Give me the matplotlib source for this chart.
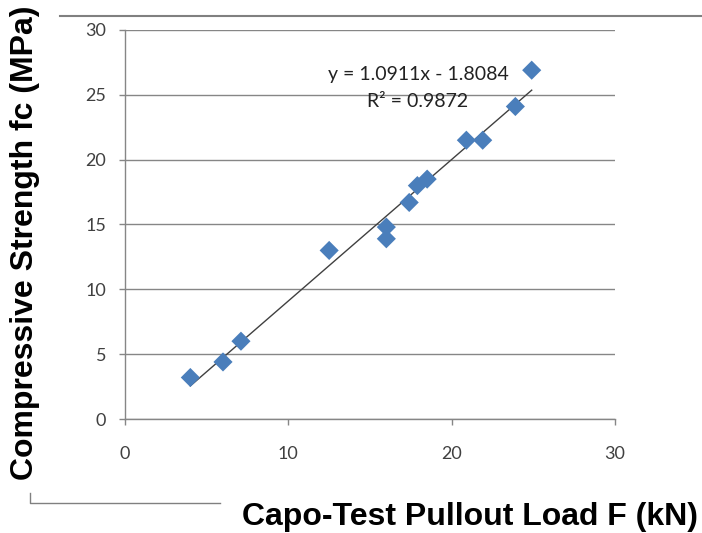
import matplotlib
matplotlib.use("Agg")
import matplotlib.pyplot as plt
from matplotlib.lines import Line2D

# pullout load F (kN) vs compressive strength fc (MPa)
load_kn = [4.0, 6.0, 7.1, 12.5, 16.0, 16.0, 17.4, 17.9, 18.5, 20.9, 21.9, 23.9, 24.9]
strength_mpa = [3.2, 4.4, 6.0, 13.0, 14.8, 13.9, 16.7, 18.0, 18.5, 21.5, 21.5, 24.1, 26.9]

slope = 1.0911
intercept = -1.8084
r2 = 0.9872

ticks = [0, 5, 10, 15, 20, 25, 30]
xticks = [0, 10, 20, 30]

fig = plt.figure(figsize=(7.02, 5.33), dpi=100)
ax = fig.add_axes([125 / 702, 1 - 419 / 533, 490 / 702, 389 / 533])

grey = "#868686"
ax.set_xlim(0, 30)
ax.set_ylim(0, 30)
ax.set_yticks(ticks)
ax.set_xticks(xticks)
ax.grid(axis="y", color=grey, lw=1)
ax.set_axisbelow(True)
for s in ["top", "right"]:
    ax.spines[s].set_visible(False)
for s in ["left", "bottom"]:
    ax.spines[s].set_color(grey)
    ax.spines[s].set_linewidth(1)
ax.tick_params(colors=grey, length=4.5, width=1, labelcolor="#404040", labelsize=13)
ax.tick_params(axis="y", pad=9)
ax.tick_params(axis="x", pad=15)
for lab in ax.get_xticklabels() + ax.get_yticklabels():
    lab.set_fontfamily("Lato")

# trendline
x0, x1 = min(load_kn), max(load_kn)
ax.plot([x0, x1], [slope * x0 + intercept, slope * x1 + intercept], color="#404040", lw=1, zorder=2)
ax.scatter(load_kn, strength_mpa, marker="D", s=95, color="#4A7EBB", edgecolor="none", zorder=3)

ax.text(17.95, 26.6, f"y = {slope}x - {abs(intercept)}", ha="center", va="center",
        fontsize=14, family="Lato", color="#222222")
ax.text(17.9, 24.5, f"R² = {r2}", ha="center", va="center",
        fontsize=14, family="Lato", color="#222222")

# axis titles
fig.text(40 / 702, 1 - 243 / 533, "Compressive Strength fc (MPa)", rotation=90,
         ha="right", va="center", fontsize=23, fontweight="bold", family="Liberation Sans")
fig.text(470 / 702, 1 - 525 / 533, "Capo-Test Pullout Load F (kN)",
         ha="center", va="baseline", fontsize=23, fontweight="bold", family="Liberation Sans")

# decorative lines from the page
fig.add_artist(Line2D([60 / 702, 1], [1 - 16 / 533, 1 - 16 / 533], color="#808080", lw=1.5))
fig.add_artist(Line2D([30 / 702, 30 / 702, 220 / 702], [1 - 493 / 533, 1 - 503 / 533, 1 - 503 / 533],
                      color="#808080", lw=1))

fig.savefig("out.png", dpi=100)
